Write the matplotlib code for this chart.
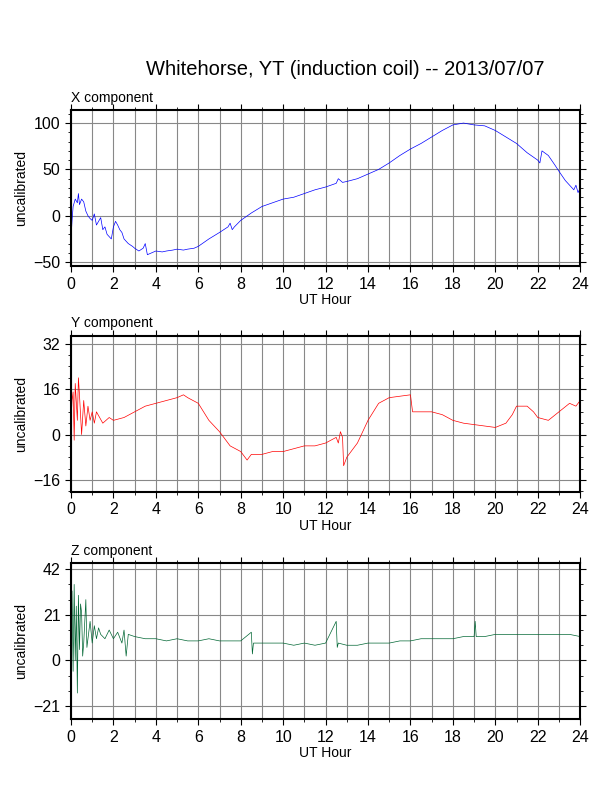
import matplotlib
matplotlib.use("Agg")
import matplotlib.pyplot as plt
from matplotlib.ticker import MultipleLocator

plt.rcParams["font.family"] = ["Liberation Sans", "DejaVu Sans"]

# ----------------------------- Data -----------------------------
x_hours = [0, 0.05, 0.1, 0.2, 0.3, 0.35, 0.4, 0.5, 0.6, 0.7, 0.8, 0.9, 1.0, 1.1, 1.2, 1.3, 1.4, 1.5,
           1.6, 1.7, 1.9, 2.0, 2.1, 2.2, 2.3, 2.4, 2.5, 2.7, 2.9, 3.0, 3.2, 3.4, 3.5, 3.6, 3.8, 4.0,
           4.3, 4.5, 4.8, 5.0, 5.3, 5.5, 5.8, 6.0, 6.5, 7.0, 7.4, 7.5, 7.6, 7.7, 8.0, 8.5, 9.0, 9.5,
           10.0, 10.5, 11.0, 11.5, 12.0, 12.5, 12.6, 12.8, 13.0, 13.5, 14.0, 14.5, 15.0, 15.5, 16.0,
           16.5, 17.0, 17.5, 18.0, 18.5, 19.0, 19.5, 20.0, 20.5, 21.0, 21.5, 22.0, 22.1, 22.2, 22.5,
           22.8, 23.0, 23.3, 23.5, 23.7, 23.8, 23.9, 24.0]
x_values = [-25, -5, 10, 18, 14, 24, 12, 18, 15, 5, 0, -3, -5, 2, -10, -6, -2, -15,
            -12, -20, -25, -12, -6, -10, -15, -18, -25, -30, -33, -35, -38, -35, -30, -42, -40, -38,
            -39, -38, -37, -36, -37, -36, -35, -33, -25, -18, -12, -8, -15, -12, -5, 3, 10, 14,
            18, 20, 24, 28, 31, 35, 40, 36, 37, 40, 45, 50, 57, 65, 72,
            78, 85, 92, 98, 100, 98, 97, 92, 85, 78, 68, 60, 57, 70, 65,
            55, 48, 38, 33, 28, 33, 25, 30]

y_hours = [0, 0.05, 0.1, 0.15, 0.2, 0.3, 0.35, 0.4, 0.5, 0.6, 0.7, 0.8, 0.9, 1.0, 1.1, 1.2, 1.5,
           1.8, 2.0, 2.5, 3.0, 3.5, 4.0, 4.5, 5.0, 5.3, 5.5, 6.0, 6.5, 7.0, 7.5, 8.0, 8.3, 8.5,
           9.0, 9.5, 10.0, 10.5, 11.0, 11.5, 12.0, 12.5, 12.6, 12.7, 12.8, 12.85, 13.0, 13.5,
           14.0, 14.5, 15.0, 15.5, 16.0, 16.1, 16.5, 17.0, 17.5, 18.0, 18.5, 19.0, 19.5, 20.0,
           20.5, 20.8, 21.0, 21.5, 21.8, 22.0, 22.5, 23.0, 23.5, 23.8, 24.0]
y_values = [5, 12, 15, -2, 18, 5, 20, 14, 0, 12, 3, 10, 5, 8, 4, 8, 4,
            6, 5, 6, 8, 10, 11, 12, 13, 14, 13, 11, 5, 1, -4, -6, -9, -7,
            -7, -6, -6, -5, -4, -4, -3, -1, -3, 1, -1, -11, -8, -3,
            5, 11, 13, 13.5, 14, 8, 8, 8, 7, 5, 4, 3.5, 3, 2.5,
            4, 7, 10, 10, 8, 6, 5, 8, 11, 10, 12]

z_hours = [0, 0.05, 0.1, 0.15, 0.2, 0.25, 0.3, 0.35, 0.4, 0.45, 0.5, 0.55, 0.6, 0.7, 0.75, 0.8,
           0.9, 1.0, 1.1, 1.2, 1.3, 1.4, 1.6, 1.8, 2.0, 2.2, 2.4, 2.5, 2.6, 2.7, 3.0, 3.5, 4.0,
           4.5, 5.0, 5.5, 6.0, 6.5, 7.0, 7.5, 8.0, 8.5, 8.55, 8.6, 9.0, 9.5, 10.0, 10.5, 11.0,
           11.5, 12.0, 12.5, 12.55, 12.6, 13.0, 13.5, 14.0, 14.5, 15.0, 15.5, 16.0, 16.5, 17.0,
           17.5, 18.0, 18.5, 19.0, 19.05, 19.1, 19.5, 20.0, 20.5, 21.0, 21.5, 22.0, 22.5, 23.0,
           23.5, 24.0]
z_values = [5, 32, -5, 35, 0, 25, -15, 30, 5, 26, 22, 2, 8, 28, 6, 10,
            18, 8, 16, 10, 15, 12, 10, 14, 10, 13, 8, 14, 2, 12, 11, 10, 10,
            9, 10, 9, 9, 10, 9, 9, 9, 13, 3, 8, 8, 8, 8, 7, 8,
            7, 8, 18, 6, 8, 7, 7, 8, 8, 8, 9, 9, 10, 10,
            10, 10, 11, 11, 18, 11, 11, 12, 12, 12, 12, 12, 12, 12,
            12, 11]

panels = [
    ("X component", x_hours, x_values, "blue", (-54.3, 114), 50, 10, [0.664, 0.197]),
    ("Y component", y_hours, y_values, "red", (-20.2, 34.8), 16, 4, [0.379, 0.197]),
    ("Z component", z_hours, z_values, "#006633", (-27, 44.8), 21, 7, [0.092, 0.197]),
]

fig = plt.figure(figsize=(6.12, 7.92), dpi=100)
fig.text(0.564, 0.905, "Whitehorse, YT (induction coil) -- 2013/07/07", ha="center", fontsize=14.5)

for title, hours, values, color, ylim, major, minor, (y0, h) in panels:
    ax = fig.add_axes([0.116, y0, 0.832, h])
    ax.plot(hours, values, color=color, linewidth=0.5)
    ax.set_xlim(0, 24)
    ax.set_ylim(*ylim)
    ax.xaxis.set_major_locator(MultipleLocator(2))
    ax.xaxis.set_minor_locator(MultipleLocator(1))
    ax.yaxis.set_major_locator(MultipleLocator(major))
    ax.yaxis.set_minor_locator(MultipleLocator(minor))
    ax.grid(True, which="major", axis="y", color="#888888", linewidth=0.8)
    ax.grid(True, which="both", axis="x", color="#888888", linewidth=0.8)
    ax.tick_params(which="both", direction="out", top=True, right=True, labelsize=11.5)
    ax.tick_params(which="major", length=4)
    ax.tick_params(which="minor", length=2)
    for side in ax.spines.values():
        side.set_linewidth(1.5)
    ax.set_xlabel("UT Hour", fontsize=10, labelpad=1)
    ax.set_ylabel("uncalibrated", fontsize=10)
    ax.set_title(title, loc="left", fontsize=10, pad=6)

fig.savefig("out.png", dpi=100)
